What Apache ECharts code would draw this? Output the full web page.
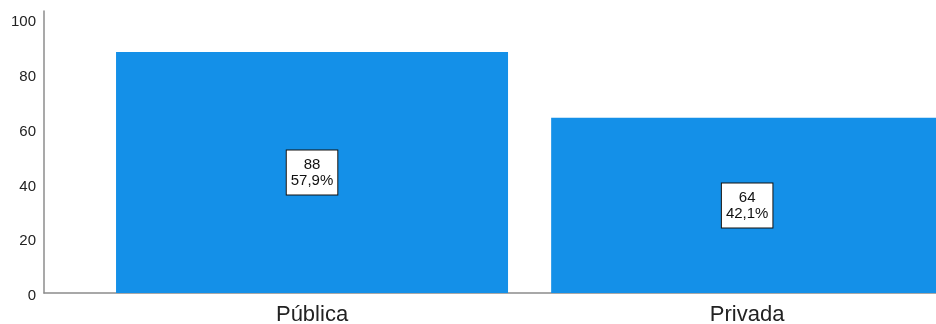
<!DOCTYPE html>
<html>
<head>
<meta charset="utf-8">
<script src="https://cdn.jsdelivr.net/npm/echarts@6/dist/echarts.min.js"></script>
<style>
  html, body { margin: 0; padding: 0; background: #fff; }
  #chart { width: 936px; height: 324px; }
</style>
</head>
<body>
<div id="chart"></div>
<script>
// datos del gráfico
var categorias = ['Pública', 'Privada'];
var conteos = [88, 64];
var porcentajes = ['57,9%', '42,1%'];
var posiciones = [1, 2]; // posición de cada categoría en el eje x

var myChart = echarts.init(document.getElementById('chart'));

myChart.setOption({
    animation: false,
    grid: { left: 44, right: 0, top: 11, bottom: 31, containLabel: false, outerBoundsMode: 'none' },
    xAxis: {
        type: 'value',
        min: 0.384,
        max: 2.434,
        axisLine: { show: true, lineStyle: { color: '#8c8c8c', width: 1.5 } },
        axisTick: { show: false },
        splitLine: { show: false },
        axisLabel: {
            customValues: posiciones,
            formatter: function (v) { return categorias[Math.round(v) - 1] || ''; },
            fontFamily: 'Liberation Sans',
            fontSize: 22,
            color: '#222',
            margin: 11
        }
    },
    yAxis: {
        type: 'value',
        min: 0,
        max: 103,
        interval: 20,
        axisLine: { show: true, lineStyle: { color: '#8c8c8c', width: 1.5 } },
        axisTick: { show: false },
        splitLine: { show: false },
        axisLabel: {
            showMaxLabel: false,
            fontFamily: 'Liberation Sans',
            fontSize: 15,
            color: '#222',
            margin: 8,
            verticalAlign: 'top',
            lineHeight: 6
        }
    },
    series: [{
        type: 'bar',
        barWidth: 392,
        data: posiciones.map(function (p, i) { return [p, conteos[i]]; }),
        itemStyle: { color: '#1490e8' },
        label: {
            show: true,
            position: 'inside',
            formatter: function (p) {
                return conteos[p.dataIndex] + '\n' + porcentajes[p.dataIndex];
            },
            fontFamily: 'Liberation Sans',
            fontSize: 15,
            lineHeight: 16,
            color: '#111',
            backgroundColor: '#fff',
            borderColor: '#111',
            borderWidth: 1,
            padding: [6, 4]
        }
    }]
});
</script>
</body>
</html>
